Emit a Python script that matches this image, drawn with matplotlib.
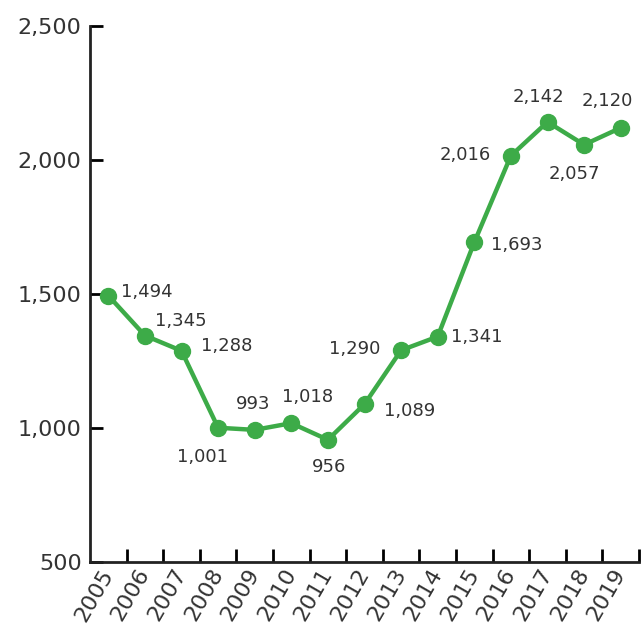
import matplotlib.pyplot as plt
import numpy as np
from matplotlib.ticker import FuncFormatter

# --- Data ---
years = ["2005", "2006", "2007", "2008", "2009", "2010", "2011", "2012",
         "2013", "2014", "2015", "2016", "2017", "2018", "2019"]
values = [1494, 1345, 1288, 1001, 993, 1018, 956, 1089,
          1290, 1341, 1693, 2016, 2142, 2057, 2120]
# label offsets (pixels) relative to each point
label_dx = [39, 36, 45, -16, -2, 16, 1, 45, -46, 39, 42, -46, -9, -10, -13]
label_dy = [4, 15, 5, -29, 26, 26, -27, -7, 1, 0, -3, 1, 25, -29, 27]

green = "#3dab48"
text_col = "#333333"

fig = plt.figure(figsize=(6.43, 6.31), dpi=100)
ax = fig.add_axes([90 / 643, 1 - 562 / 631, 549 / 643, 536 / 631])

x = np.arange(len(years))
ax.plot(x, values, color=green, linewidth=3.2, marker="o", markersize=11.5,
        solid_capstyle="round", zorder=3)

for xi, v, dx, dy in zip(x, values, label_dx, label_dy):
    ax.annotate(f"{v:,}", (xi, v), xytext=(dx * 0.72, dy * 0.72),
                textcoords="offset points", ha="center", va="center",
                fontsize=13, color=text_col)

# --- Axes ---
ax.set_xlim(-0.5, len(years) - 0.5)
ax.set_ylim(500, 2500)
ax.set_yticks([500, 1000, 1500, 2000, 2500])
ax.yaxis.set_major_formatter(FuncFormatter(lambda v, p: f"{int(v):,}"))

ax.set_xticks(x)
ax.set_xticklabels(years)
ax.set_xticks(np.arange(len(years)) + 0.5, minor=True)
ax.tick_params(axis="x", which="major", length=0, pad=6, labelsize=16,
               labelcolor=text_col)
ax.tick_params(axis="x", which="minor", direction="in", length=9.5,
               width=2)
ax.tick_params(axis="y", direction="in", length=9.5, width=2, pad=6,
               labelsize=16, labelcolor=text_col)
for lbl in ax.get_xticklabels():
    lbl.set_rotation(60)
    lbl.set_ha("right")
    lbl.set_va("center")
    lbl.set_rotation_mode("anchor")

for side in ["top", "right"]:
    ax.spines[side].set_visible(False)
for side in ["left", "bottom"]:
    ax.spines[side].set_linewidth(2)
    ax.spines[side].set_color("#222222")

fig.savefig("out.png", dpi=100)
